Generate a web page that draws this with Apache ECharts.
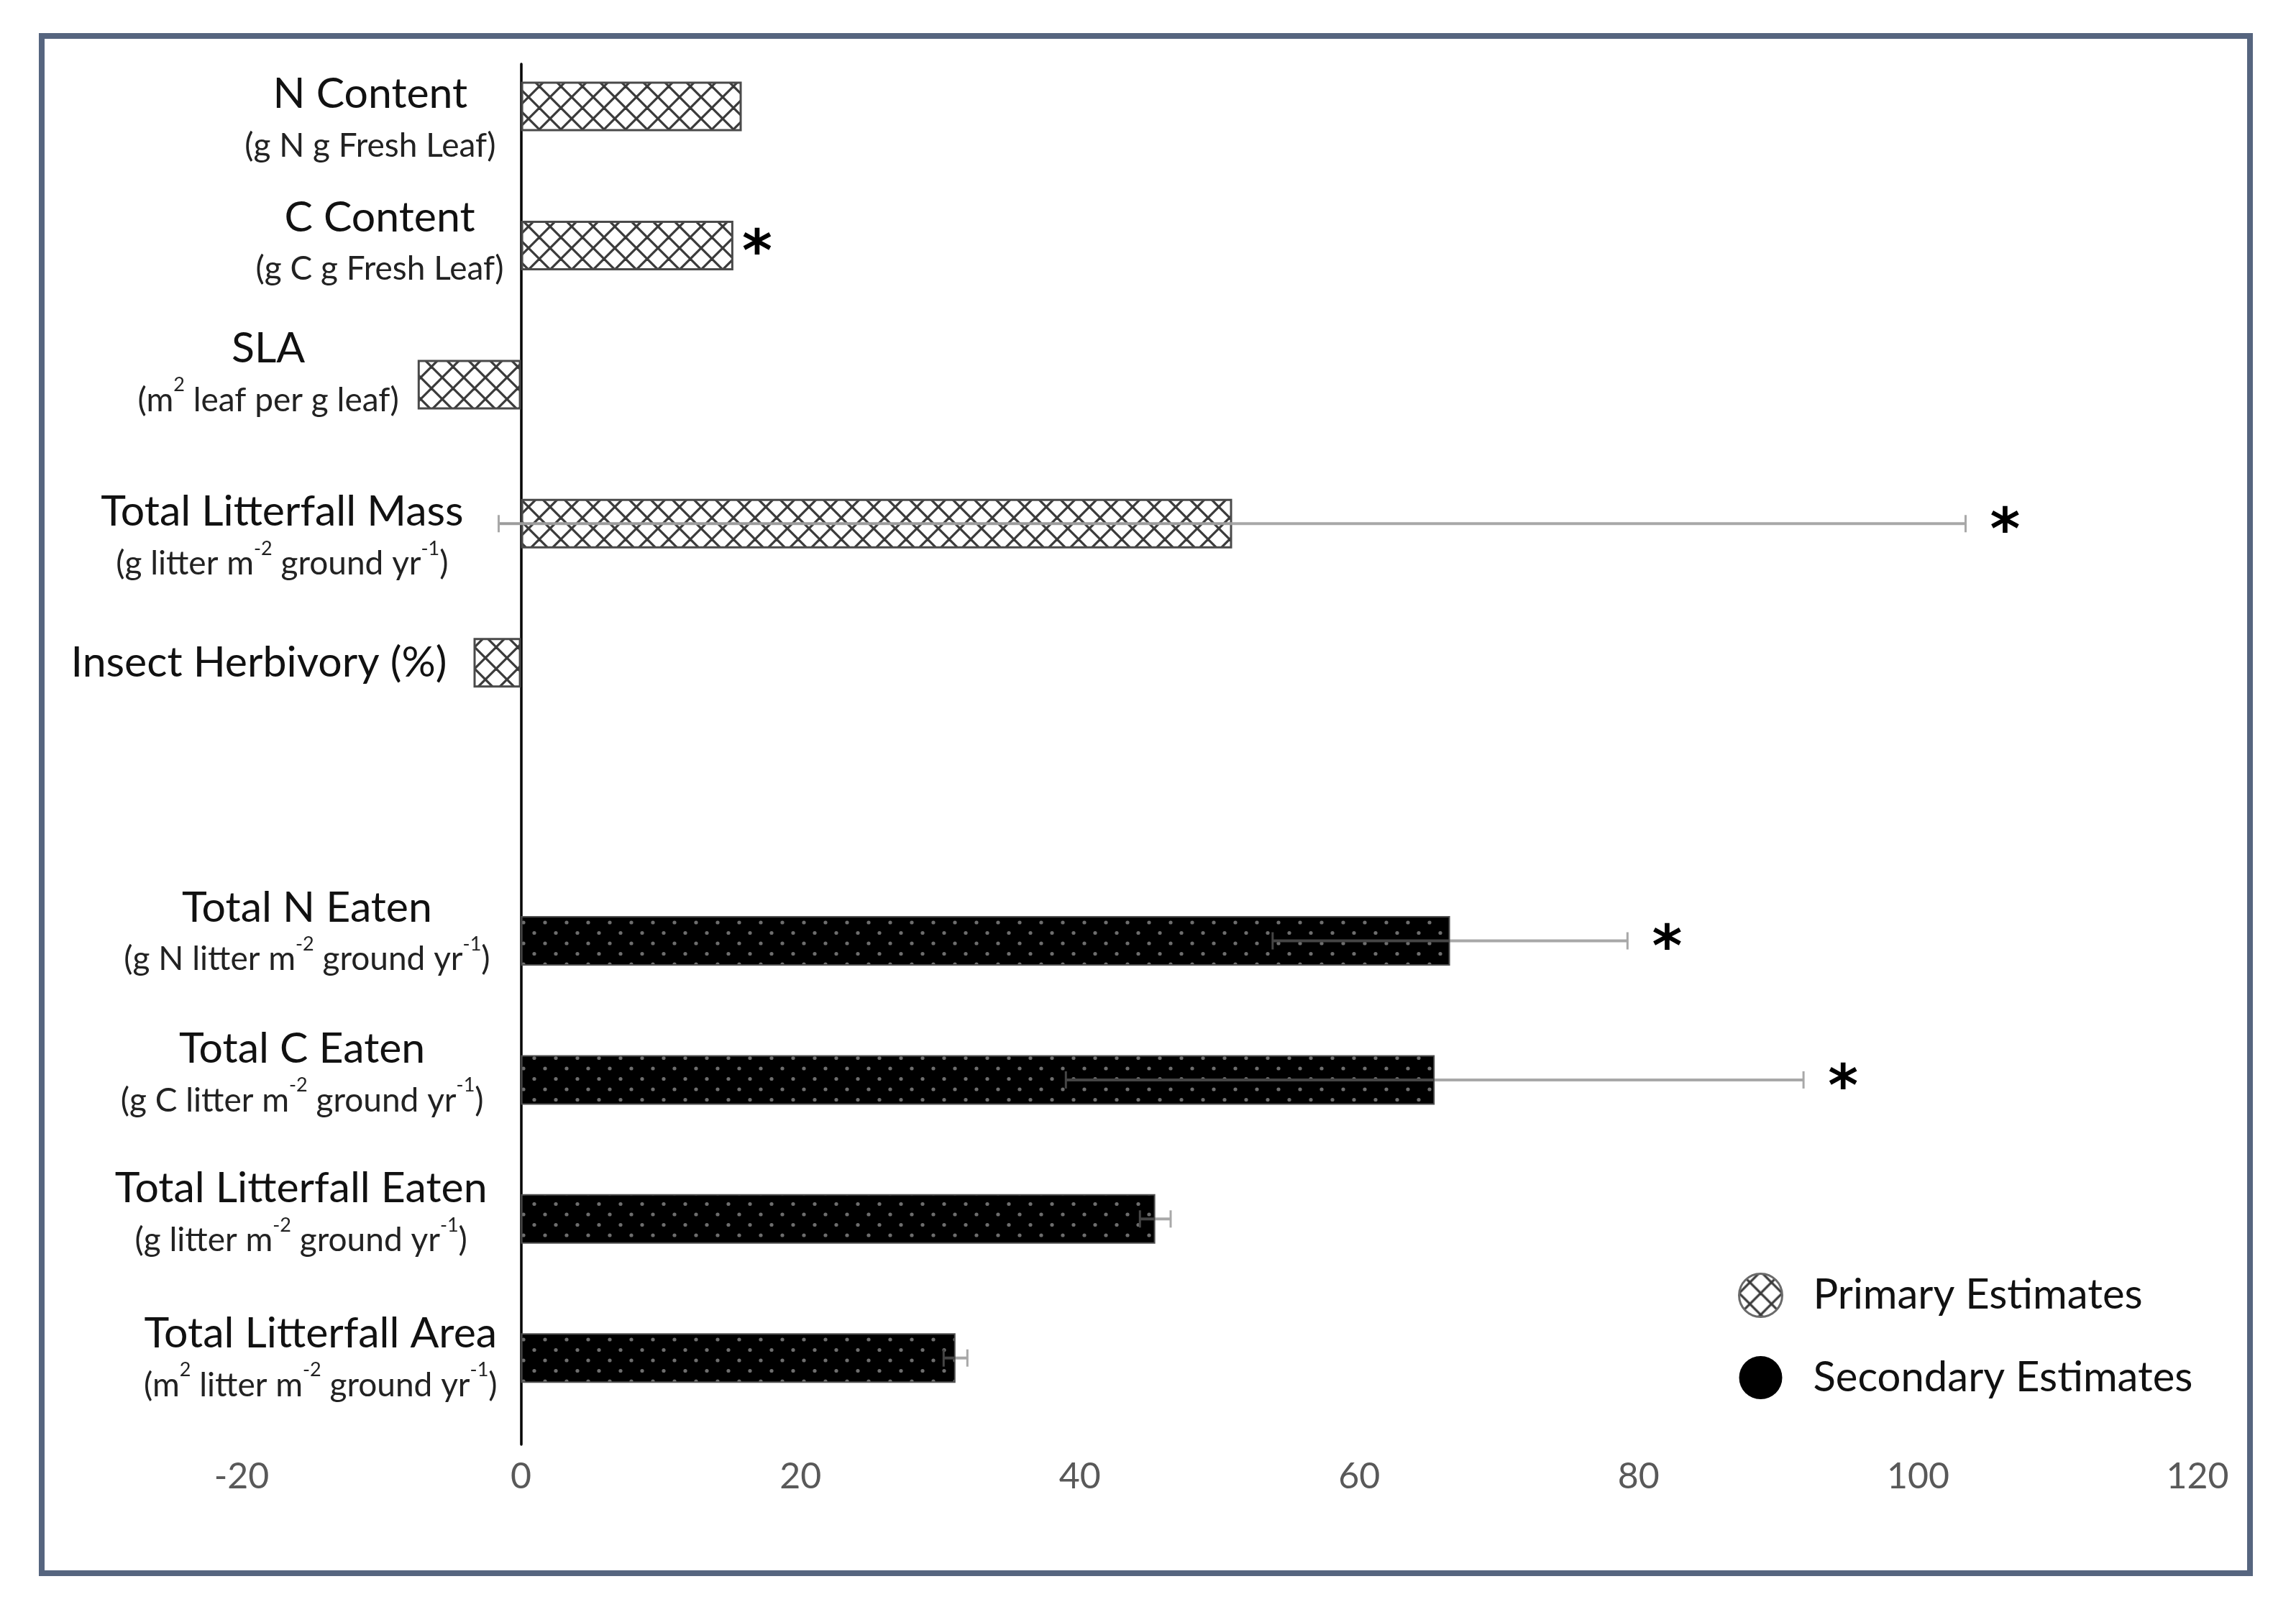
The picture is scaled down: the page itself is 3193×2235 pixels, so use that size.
<!DOCTYPE html>
<html>
<head>
<meta charset="utf-8">
<script src="https://cdn.jsdelivr.net/npm/echarts@6/dist/echarts.min.js"></script>
<style>
  html, body { margin: 0; padding: 0; background: #ffffff; }
  #frame { position: absolute; left: 54px; top: 46px; width: 3079px; height: 2146px;
           box-sizing: border-box; border: 8px solid #56657f; }
  #chart { position: absolute; left: 0; top: 0; width: 3193px; height: 2235px; }
</style>
</head>
<body>
<div id="frame"></div>
<div id="chart"></div>
<script>
// ---------------- DATA ----------------
const categories = ['N Content', 'C Content', 'SLA', 'Total Litterfall Mass', 'Insect Herbivory (%)', '',
  'Total N Eaten', 'Total C Eaten', 'Total Litterfall Eaten', 'Total Litterfall Area'];
const units = ['(g N g Fresh Leaf)', '(g C g Fresh Leaf)', '(m^{2} leaf per g leaf)',
  '(g litter m^{-2} ground yr^{-1})', '', '',
  '(g N litter m^{-2} ground yr^{-1})', '(g C litter m^{-2} ground yr^{-1})',
  '(g litter m^{-2} ground yr^{-1})', '(m^{2} litter m^{-2} ground yr^{-1})'];
const primaryValues = [15.8, 15.2, -7.4, 50.9, -3.4, null, null, null, null, null];
const secondaryValues = [null, null, null, null, null, null, 66.5, 65.4, 45.4, 31.1];
const errorValues = [null, null, null, 52.5, null, null, 12.7, 26.4, 1.1, 0.85];
const significant = [0, 1, 0, 1, 0, 0, 1, 1, 0, 0];
const xTicks = { min: -20, max: 120, interval: 20 };
const seriesNames = ['Primary Estimates', 'Secondary Estimates'];

// ---------------- LAYOUT (label placement, px) ----------------
const labelGap = [35, 24, 26, 80, 37, 0, 43, 52, 47, 33];
const labelShift = [18, -4, -15, 19, 0, 0, -11, -8, -7, 1];

// ---------------- PATTERNS ----------------
function hatchCanvas() {
  const c = document.createElement('canvas'); c.width = 30; c.height = 30;
  const g = c.getContext('2d');
  g.fillStyle = '#ffffff'; g.fillRect(0, 0, 30, 30);
  g.strokeStyle = '#3a3a3a'; g.lineWidth = 3.2;
  for (const o of [-30, 0, 30]) {
    g.beginPath(); g.moveTo(o, 0); g.lineTo(o + 30, 30); g.stroke();
    g.beginPath(); g.moveTo(o + 30, 0); g.lineTo(o, 30); g.stroke();
  }
  return c;
}
function dotCanvas() {
  const c = document.createElement('canvas'); c.width = 30; c.height = 29;
  const g = c.getContext('2d');
  g.fillStyle = '#000000'; g.fillRect(0, 0, 30, 29);
  g.fillStyle = '#6e6e6e';
  g.beginPath(); g.arc(8, 7, 2.6, 0, Math.PI * 2); g.fill();
  g.beginPath(); g.arc(23, 21.5, 2.6, 0, Math.PI * 2); g.fill();
  return c;
}
const hatchFill = { image: hatchCanvas(), repeat: 'repeat' };
const dotFill = { image: dotCanvas(), repeat: 'repeat' };

// ---------------- LABEL TEXT ----------------
function unitRich(u) {
  const parts = u.split(/\^\{([^}]*)\}/);
  let out = '';
  parts.forEach((p, k) => {
    if (!p) return;
    out += (k % 2 === 1) ? '{s|' + p + '}' : '{b|' + p + '}';
  });
  return out;
}
const labelText = categories.map((c, i) => units[i] ? '{a|' + c + '}\n' + unitRich(units[i]) : '{a|' + c + '}');

const labelRich = {
  a: { fontFamily: 'Lato', fontSize: 59, lineHeight: 74, color: '#111111', align: 'center' },
  b: { fontFamily: 'Lato', fontSize: 46, lineHeight: 70, color: '#222222', align: 'center' },
  s: { fontFamily: 'Lato', fontSize: 27, lineHeight: 50, color: '#222222', align: 'center', verticalAlign: 'top' }
};

function barData(values) {
  return values.map((v, i) => v == null ? null : {
    value: v,
    label: { distance: labelGap[i], offset: [0, labelShift[i]] }
  });
}

const errData = [];
categories.forEach((c, i) => {
  const p = primaryValues[i], s = secondaryValues[i];
  const v = p != null ? p : s;
  if (v == null) return;
  errData.push([i, v, errorValues[i] || 0, significant[i], p != null ? 0 : 1]);
});

function renderErr(params, api) {
  const i = api.value(0), v = api.value(1), e = api.value(2), sig = api.value(3), grp = api.value(4);
  const yC = api.coord([0, i])[1];
  const kids = [];
  const capH = 12;
  if (e > 0) {
    const xLo = api.coord([v - e, i])[0], xV = api.coord([v, i])[0], xHi = api.coord([v + e, i])[0];
    const inner = grp === 0 ? '#9c9c9c' : '#454545';
    const outer = '#a8a8a8';
    kids.push({ type: 'line', shape: { x1: xLo, y1: yC, x2: xV, y2: yC }, style: { stroke: inner, lineWidth: 4 } });
    kids.push({ type: 'line', shape: { x1: xV, y1: yC, x2: xHi, y2: yC }, style: { stroke: outer, lineWidth: 4 } });
    const loInside = grp === 1 && v - e > 0;
    kids.push({ type: 'line', shape: { x1: xLo, y1: yC - capH, x2: xLo, y2: yC + capH }, style: { stroke: loInside ? inner : outer, lineWidth: 3 } });
    kids.push({ type: 'line', shape: { x1: xHi, y1: yC - capH, x2: xHi, y2: yC + capH }, style: { stroke: outer, lineWidth: 3 } });
  }
  if (sig) {
    const xEnd = api.coord([v + e, i])[0];
    kids.push({ type: 'text', x: xEnd + (e > 0 ? 55 : 33), y: yC + 14,
      style: { text: '*', fontFamily: 'DejaVu Sans', fontWeight: 'bold', fontSize: 80,
               fill: '#000000', align: 'center', verticalAlign: 'middle' } });
  }
  return { type: 'group', children: kids };
}

const chart = echarts.init(document.getElementById('chart'), null, { renderer: 'canvas' });
chart.setOption({
  animation: false,
  backgroundColor: 'transparent',
  grid: [
    { left: 336, right: 137, top: 89, bottom: 226, containLabel: false },
    { left: 336, right: 137, top: 51.4, bottom: 249.6, containLabel: false }
  ],
  xAxis: [
    { gridIndex: 0, type: 'value', min: xTicks.min, max: xTicks.max, interval: xTicks.interval,
      axisLine: { show: false }, axisTick: { show: false }, splitLine: { show: false },
      axisLabel: { color: '#595959', fontFamily: 'Lato', fontSize: 50, margin: 20 } },
    { gridIndex: 1, type: 'value', min: xTicks.min, max: xTicks.max, interval: xTicks.interval, show: false,
      splitLine: { show: false } }
  ],
  yAxis: [
    { gridIndex: 0, type: 'value', min: 0, max: 1, axisLabel: { show: false }, axisTick: { show: false },
      splitLine: { show: false },
      axisLine: { show: true, onZero: true, lineStyle: { color: '#000000', width: 3.5 } } },
    { gridIndex: 1, type: 'category', data: categories, inverse: true, show: false }
  ],
  legend: {
    orient: 'vertical', left: 2412, top: 1765, itemWidth: 60, itemHeight: 66, itemGap: 53, icon: 'circle',
    textStyle: { fontFamily: 'Lato', fontSize: 58, color: '#111111', padding: [0, 0, 0, 38] },
    data: [
      { name: seriesNames[0], itemStyle: { color: hatchFill, borderColor: '#6a6a6a', borderWidth: 3 } },
      { name: seriesNames[1], itemStyle: { color: '#000000', borderWidth: 0 } }
    ]
  },
  series: [
    { name: seriesNames[0], type: 'bar', xAxisIndex: 1, yAxisIndex: 1, barWidth: 69, barGap: '-100%',
      data: barData(primaryValues),
      itemStyle: { color: hatchFill, borderColor: '#4a4a4a', borderWidth: 3 },
      label: { show: true, position: 'left', formatter: p => labelText[p.dataIndex], rich: labelRich },
      z: 2 },
    { name: seriesNames[1], type: 'bar', xAxisIndex: 1, yAxisIndex: 1, barWidth: 69, barGap: '-100%',
      data: barData(secondaryValues),
      itemStyle: { color: dotFill, borderColor: '#505050', borderWidth: 2 },
      label: { show: true, position: 'left', formatter: p => labelText[p.dataIndex], rich: labelRich },
      z: 2 },
    { name: 'errors', type: 'custom', xAxisIndex: 1, yAxisIndex: 1, data: errData,
      encode: { x: 1, y: 0 }, renderItem: renderErr, clip: false, z: 5, silent: true }
  ]
});
</script>
</body>
</html>
